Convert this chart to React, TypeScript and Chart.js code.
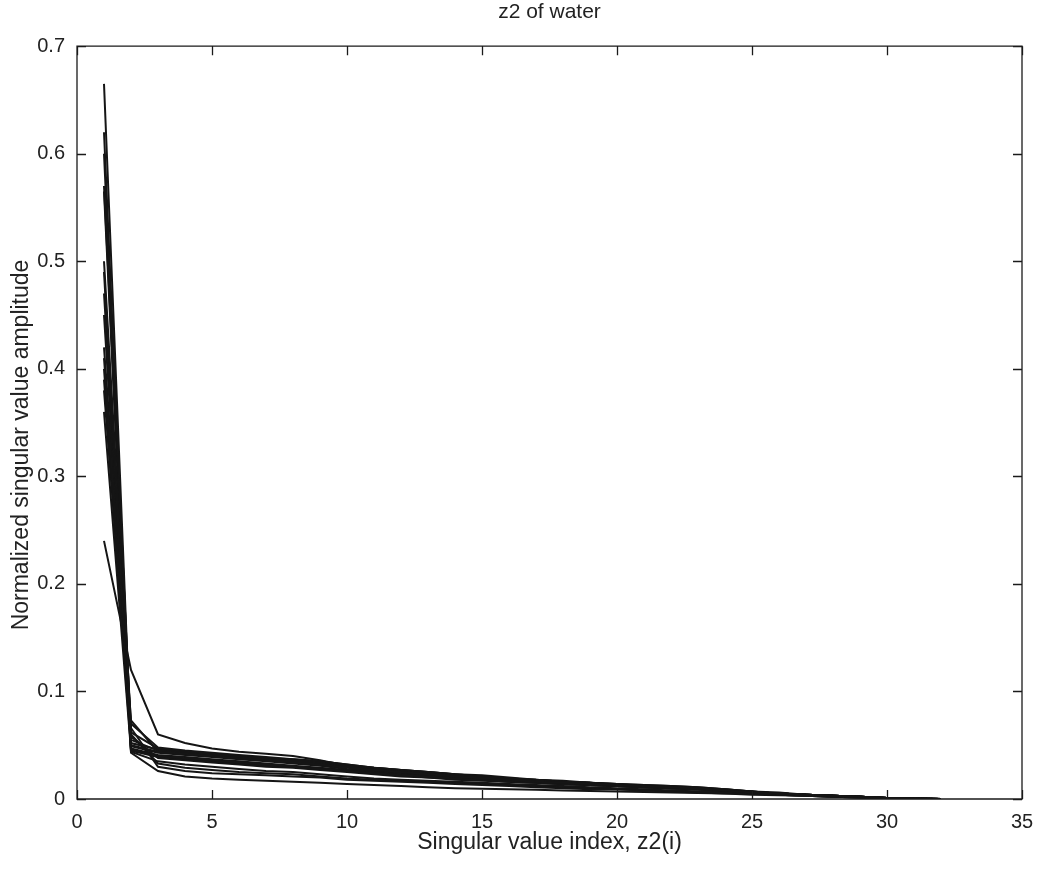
import React, { useEffect, useRef } from "react";
import { Chart, registerables } from "chart.js";

Chart.register(...registerables);

const titleText = "z2 of water";
const xTitle = "Singular value index, z2(i)";
const yTitle = "Normalized singular value amplitude";

const xTicks = [0, 5, 10, 15, 20, 25, 30, 35];
const yTicks = [0, 0.1, 0.2, 0.3, 0.4, 0.5, 0.6, 0.7];

const indices = [1, 2, 3, 4, 5, 6, 7, 8, 9, 10, 11, 12, 13, 14, 15, 16, 17, 18, 19, 20, 21, 22, 23, 24, 25, 26, 27, 28, 29, 30, 31, 32];

const sA = [0.665, 0.050, 0.044, 0.042, 0.040, 0.038, 0.036, 0.034, 0.032, 0.029, 0.027, 0.025, 0.023, 0.021, 0.019, 0.018, 0.016, 0.015, 0.014, 0.013, 0.012, 0.011, 0.010, 0.008, 0.006, 0.005, 0.004, 0.003, 0.002, 0.001, 0.0005, 0.0];
const sB = [0.620, 0.046, 0.040, 0.038, 0.036, 0.034, 0.032, 0.030, 0.028, 0.026, 0.024, 0.022, 0.021, 0.019, 0.018, 0.016, 0.015, 0.014, 0.013, 0.012, 0.011, 0.010, 0.009, 0.008, 0.006, 0.005, 0.004, 0.003, 0.002, 0.001, 0.0003, 0.0];
const sC = [0.600, 0.055, 0.045, 0.043, 0.041, 0.039, 0.037, 0.035, 0.033, 0.030, 0.027, 0.025, 0.023, 0.022, 0.020, 0.019, 0.017, 0.016, 0.015, 0.013, 0.012, 0.011, 0.010, 0.008, 0.007, 0.005, 0.004, 0.003, 0.002, 0.001, 0.0005, 0.0];
const sD = [0.570, 0.062, 0.047, 0.044, 0.042, 0.040, 0.038, 0.036, 0.034, 0.031, 0.028, 0.026, 0.024, 0.022, 0.021, 0.019, 0.018, 0.016, 0.015, 0.014, 0.012, 0.011, 0.010, 0.009, 0.007, 0.005, 0.004, 0.003, 0.002, 0.001, 0.0004, 0.0];
const sE = [0.565, 0.044, 0.035, 0.032, 0.030, 0.028, 0.026, 0.025, 0.023, 0.021, 0.019, 0.018, 0.017, 0.016, 0.015, 0.014, 0.013, 0.012, 0.011, 0.010, 0.009, 0.008, 0.007, 0.006, 0.005, 0.004, 0.003, 0.002, 0.0015, 0.001, 0.0003, 0.0];
const sF = [0.500, 0.070, 0.048, 0.045, 0.043, 0.041, 0.039, 0.037, 0.035, 0.032, 0.029, 0.027, 0.025, 0.023, 0.021, 0.019, 0.018, 0.016, 0.015, 0.014, 0.013, 0.012, 0.011, 0.009, 0.007, 0.006, 0.004, 0.003, 0.002, 0.001, 0.0005, 0.0];
const sG = [0.490, 0.043, 0.026, 0.021, 0.019, 0.018, 0.017, 0.016, 0.015, 0.014, 0.013, 0.012, 0.011, 0.010, 0.0095, 0.009, 0.0085, 0.008, 0.0075, 0.007, 0.0065, 0.006, 0.0055, 0.005, 0.004, 0.0035, 0.003, 0.002, 0.0015, 0.001, 0.0003, 0.0];
const sH = [0.470, 0.058, 0.038, 0.036, 0.034, 0.032, 0.030, 0.029, 0.027, 0.025, 0.023, 0.021, 0.020, 0.018, 0.017, 0.016, 0.015, 0.014, 0.013, 0.012, 0.011, 0.010, 0.009, 0.008, 0.006, 0.005, 0.004, 0.003, 0.002, 0.001, 0.0004, 0.0];
const sI = [0.450, 0.049, 0.043, 0.041, 0.039, 0.037, 0.035, 0.033, 0.031, 0.028, 0.026, 0.024, 0.022, 0.020, 0.019, 0.017, 0.016, 0.015, 0.013, 0.012, 0.011, 0.010, 0.009, 0.008, 0.006, 0.005, 0.004, 0.003, 0.002, 0.001, 0.0004, 0.0];
const sJ = [0.410, 0.066, 0.030, 0.026, 0.024, 0.023, 0.022, 0.021, 0.020, 0.018, 0.017, 0.016, 0.015, 0.014, 0.013, 0.012, 0.011, 0.010, 0.009, 0.009, 0.008, 0.007, 0.006, 0.005, 0.005, 0.004, 0.003, 0.002, 0.0015, 0.001, 0.0003, 0.0];
const sK = [0.400, 0.052, 0.046, 0.044, 0.042, 0.040, 0.038, 0.037, 0.035, 0.032, 0.029, 0.027, 0.025, 0.023, 0.022, 0.020, 0.018, 0.017, 0.015, 0.014, 0.013, 0.012, 0.011, 0.009, 0.007, 0.005, 0.004, 0.003, 0.002, 0.001, 0.0005, 0.0];
const sL = [0.390, 0.047, 0.041, 0.039, 0.037, 0.035, 0.033, 0.031, 0.029, 0.027, 0.025, 0.023, 0.021, 0.020, 0.018, 0.017, 0.016, 0.014, 0.013, 0.012, 0.011, 0.010, 0.009, 0.008, 0.006, 0.005, 0.004, 0.003, 0.002, 0.001, 0.0003, 0.0];
const sM = [0.380, 0.060, 0.033, 0.029, 0.027, 0.025, 0.024, 0.023, 0.021, 0.019, 0.018, 0.017, 0.016, 0.015, 0.014, 0.013, 0.012, 0.011, 0.010, 0.009, 0.008, 0.008, 0.007, 0.006, 0.005, 0.004, 0.003, 0.002, 0.0015, 0.001, 0.0003, 0.0];
const sN = [0.360, 0.045, 0.039, 0.037, 0.035, 0.033, 0.031, 0.030, 0.028, 0.026, 0.024, 0.022, 0.020, 0.019, 0.018, 0.016, 0.015, 0.014, 0.013, 0.012, 0.011, 0.010, 0.009, 0.007, 0.006, 0.005, 0.004, 0.003, 0.002, 0.001, 0.0004, 0.0];
const sO = [0.240, 0.120, 0.060, 0.052, 0.047, 0.044, 0.042, 0.040, 0.036, 0.031, 0.029, 0.027, 0.025, 0.023, 0.021, 0.019, 0.017, 0.016, 0.015, 0.013, 0.012, 0.011, 0.010, 0.008, 0.006, 0.005, 0.004, 0.003, 0.002, 0.001, 0.0005, 0.0];
const sP = [0.420, 0.073, 0.044, 0.042, 0.040, 0.038, 0.036, 0.034, 0.032, 0.030, 0.027, 0.025, 0.023, 0.021, 0.020, 0.018, 0.017, 0.015, 0.014, 0.013, 0.012, 0.011, 0.010, 0.008, 0.007, 0.005, 0.004, 0.003, 0.002, 0.001, 0.0004, 0.0];

const seriesList = [sA, sB, sC, sD, sE, sF, sG, sH, sI, sJ, sK, sL, sM, sN, sO, sP];

const FONT = "'Liberation Sans', Arial, Helvetica, sans-serif";

const framePlugin = {
  id: "frame",
  afterDatasetsDraw(chart: any) {
    const { ctx, chartArea, scales } = chart;
    const { left, right, top, bottom } = chartArea;
    const tl = 9;
    ctx.save();
    ctx.strokeStyle = "#1a1a1a";
    ctx.lineWidth = 1.3;
    ctx.beginPath();
    ctx.rect(left, top, right - left, bottom - top);
    for (const v of xTicks) {
      const px = Math.round(scales.x.getPixelForValue(v)) + 0.5;
      ctx.moveTo(px, bottom);
      ctx.lineTo(px, bottom - tl);
      ctx.moveTo(px, top);
      ctx.lineTo(px, top + tl);
    }
    for (const v of yTicks) {
      const py = Math.round(scales.y.getPixelForValue(v)) + 0.5;
      ctx.moveTo(left, py);
      ctx.lineTo(left + tl, py);
      ctx.moveTo(right, py);
      ctx.lineTo(right - tl, py);
    }
    ctx.stroke();
    // y-axis title
    ctx.fillStyle = "#222";
    ctx.font = "23px " + FONT;
    ctx.textAlign = "center";
    ctx.textBaseline = "middle";
    ctx.translate(22, 445);
    ctx.rotate(-Math.PI / 2);
    ctx.fillText(yTitle, 0, 0);
    ctx.restore();
  },
};

export default function App() {
  const ref = useRef<HTMLCanvasElement | null>(null);

  useEffect(() => {
    document.body.style.margin = "0";
    const canvas = ref.current;
    if (!canvas) return;
    const datasets = seriesList.map((vals, k) => ({
      label: "s" + (k + 1),
      data: vals.map((v, i) => ({ x: indices[i], y: v })),
      borderColor: "#151515",
      borderWidth: 2,
      pointRadius: 0,
      tension: 0,
      fill: false,
    }));
    const chart = new Chart(canvas, {
      type: "line",
      data: { datasets },
      plugins: [framePlugin],
      options: {
        animation: false,
        responsive: false,
        devicePixelRatio: 1,
        layout: { padding: { left: 0, right: 25, top: 0, bottom: 0 } },
        plugins: {
          legend: { display: false },
          tooltip: { enabled: false },
          title: {
            display: true,
            text: titleText,
            fullSize: false,
            color: "#222",
            font: { family: FONT, size: 21, weight: "normal" },
            padding: { top: 0, bottom: 21 },
          },
        },
        scales: {
          x: {
            type: "linear",
            min: 0,
            max: 35,
            afterBuildTicks: (scale: any) => {
              scale.ticks = xTicks.map((v) => ({ value: v }));
            },
            afterFit: (scale: any) => {
              scale.height = 70;
            },
            grid: { display: false, drawTicks: false },
            border: { display: false },
            ticks: {
              color: "#222",
              padding: 11,
              maxRotation: 0,
              autoSkip: false,
              font: { family: FONT, size: 20 },
              callback: (v: any) => String(v),
            },
            title: {
              display: true,
              text: xTitle,
              color: "#222",
              font: { family: FONT, size: 23 },
              padding: { top: 0, bottom: 13 },
            },
          },
          y: {
            type: "linear",
            min: 0,
            max: 0.7,
            afterBuildTicks: (scale: any) => {
              scale.ticks = yTicks.map((v) => ({ value: v }));
            },
            afterFit: (scale: any) => {
              scale.width = 77;
            },
            grid: { display: false, drawTicks: false },
            border: { display: false },
            ticks: {
              color: "#222",
              padding: 12,
              autoSkip: false,
              font: { family: FONT, size: 20 },
              callback: (v: any) => (Number(v) === 0 ? "0" : Number(v).toFixed(1)),
            },
            title: { display: false },
          },
        },
      },
    } as any);
    return () => chart.destroy();
  }, []);

  return (
    <div style={{ width: 1047, height: 869 }}>
      <canvas ref={ref} width={1047} height={869} style={{ display: "block", width: 1047, height: 869 }} />
    </div>
  );
}
